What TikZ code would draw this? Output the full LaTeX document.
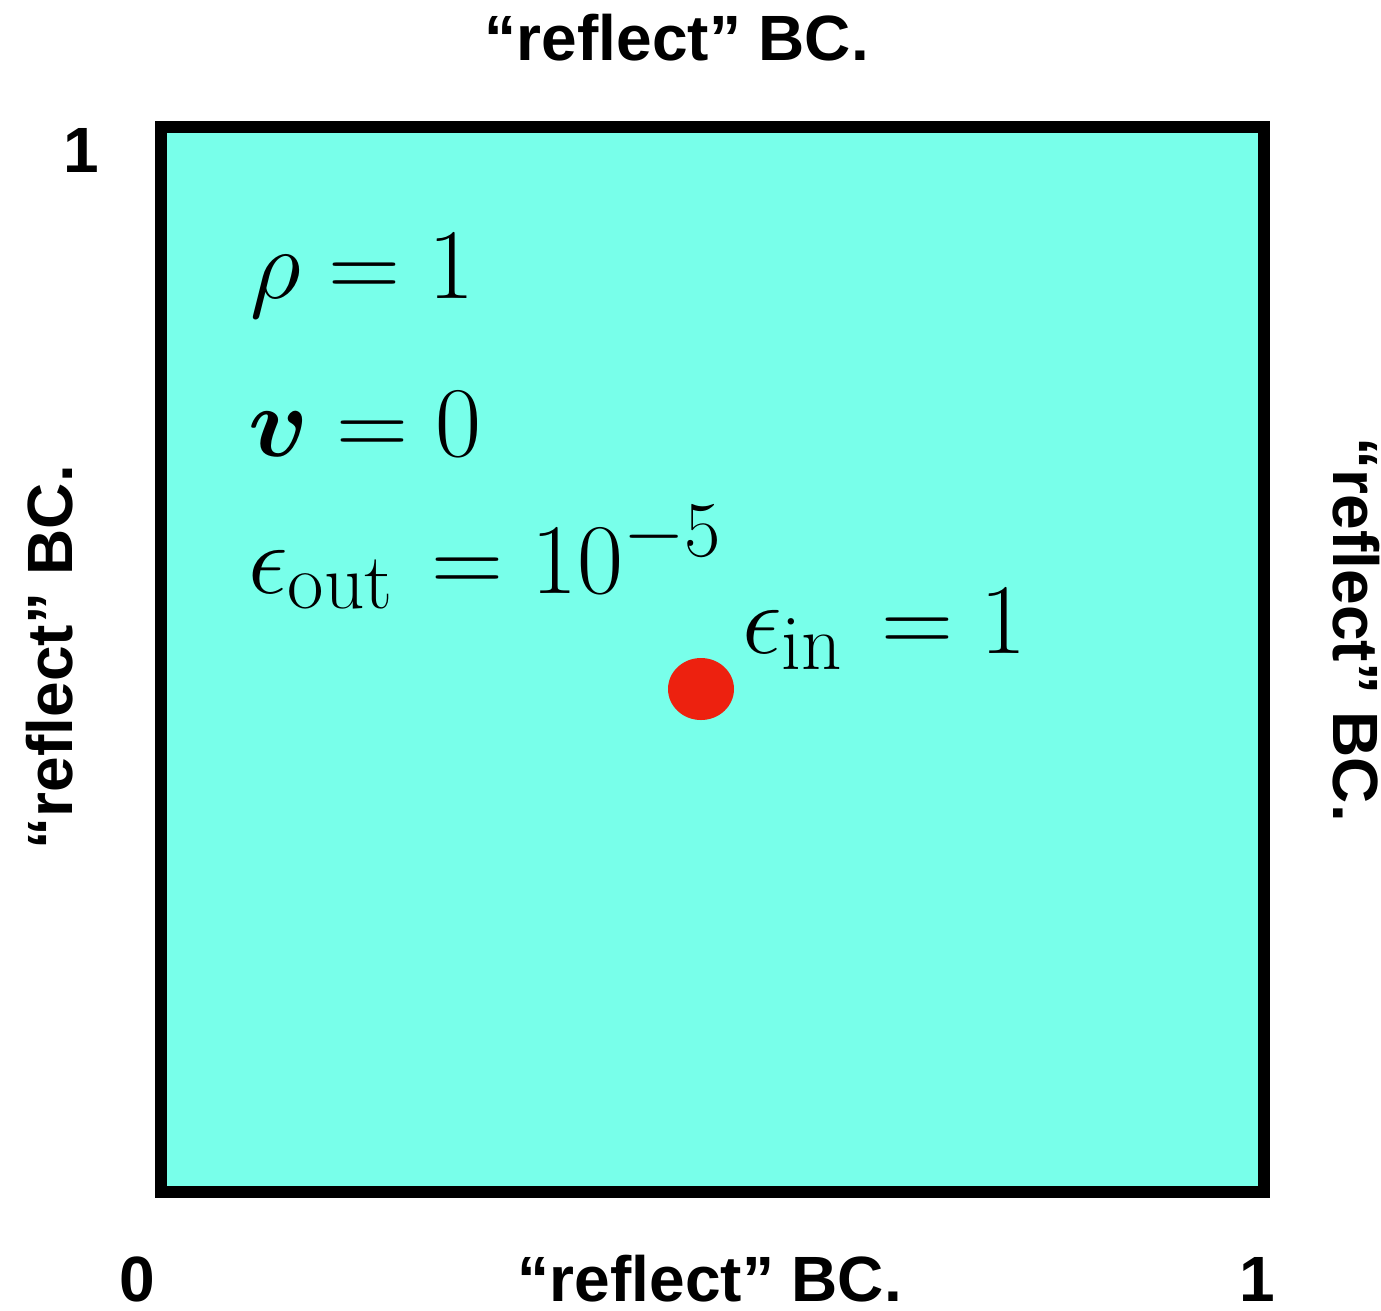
\RequirePackage{fix-cm}
\documentclass[tikz,border=0pt]{standalone}
\usepackage{amsmath,amssymb}
\usepackage{fontspec}
\newfontfamily\bcfont{Liberation Sans}
\DeclareMathSizes{100}{100}{79}{60}
\usepackage{tikz}
\usetikzlibrary{positioning}
\definecolor{domaincyan}{RGB}{120,255,234}
\definecolor{dotred}{RGB}{237,33,15}

\begin{document}
\begin{tikzpicture}[x=1pt, y=-1pt,
    bclabel/.style={inner sep=0, anchor=base, font=\bcfont\bfseries\fontsize{64}{70}\selectfont},
    numlabel/.style={inner sep=0, anchor=base, font=\bcfont\bfseries\fontsize{64}{70}\selectfont},
    mathlabel/.style={inner sep=0, anchor=base west, font=\fontsize{100}{110}\selectfont}]
\useasboundingbox (0,0) rectangle (1381,1310);
\draw[line width=12pt, fill=domaincyan] (161,127) rectangle (1264,1192);
\node[mathlabel] (rho) at (250,298) {$\rho = 1$};
\node[mathlabel] (vel) at (248,456) {$\boldsymbol{v} = 0$};
\node[mathlabel] (epsout) at (248,593) {$\epsilon_{\text{out}} \mkern2mu = 10^{-5}$};
\node[mathlabel] (epsin) at (742,653) {$\epsilon_{\text{in}} \mkern2mu = 1$};
\fill[dotred] (701,689) ellipse (33 and 31);
\node[bclabel] (bctop) at (677,60) {“reflect” BC.};
\node[bclabel] (bcbottom) at (710,1301) {“reflect” BC.};
\node[bclabel, rotate=90] (bcleft) at (72,657) {“reflect” BC.};
\node[bclabel, rotate=-90] (bcright) at (1333,630) {“reflect” BC.};
\node[numlabel] (yone) at (81,172) {1};
\node[numlabel] (xzero) at (137,1301) {0};
\node[numlabel] (xone) at (1257,1301) {1};
\end{tikzpicture}
\end{document}
